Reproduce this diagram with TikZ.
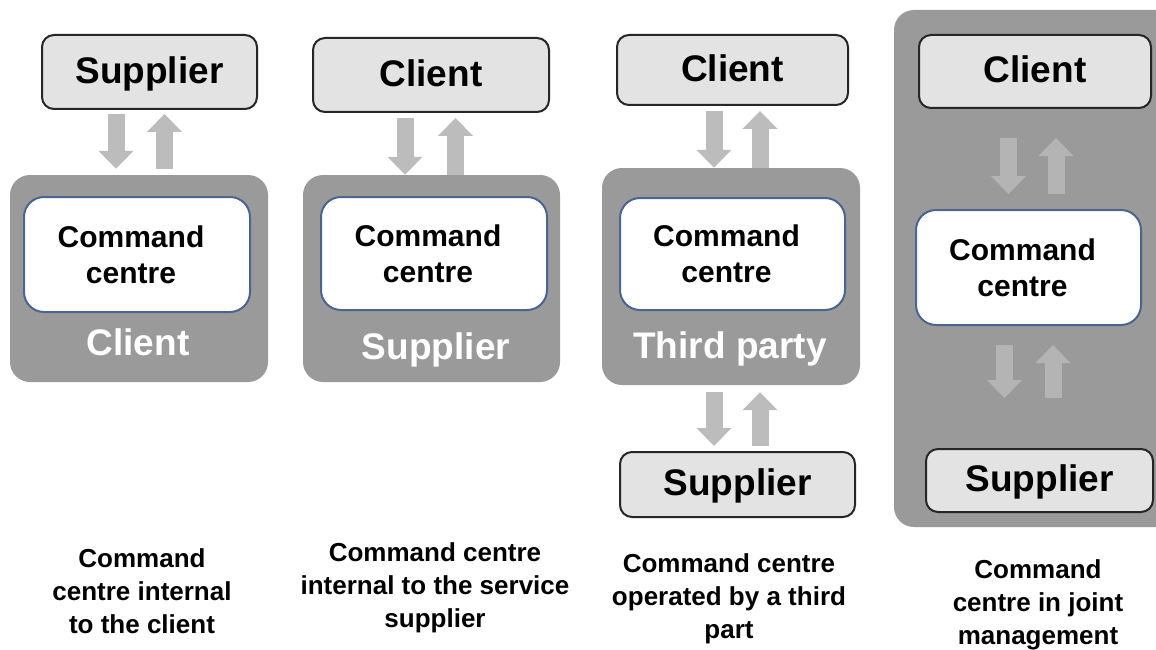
\documentclass[tikz,border=0pt]{standalone}
\usepackage{fontspec}
\setmainfont{Liberation Sans}
\usetikzlibrary{arrows.meta,calc}
\definecolor{boxfill}{HTML}{E3E3E3}
\definecolor{panelgray}{HTML}{9A9A9A}
\definecolor{flowgray}{HTML}{BCBCBC}
\definecolor{flowdim}{HTML}{B4B4B4}
\definecolor{ccborder}{HTML}{4A6592}
% label of a command-centre box, set a little left of the box centre
\newcommand{\cclabel}{Command\hspace*{12pt}\\centre\hspace*{12pt}}
\begin{document}
\begin{tikzpicture}[x=1pt,y=-1pt,
  party/.style={draw=black!85, line width=2pt, fill=boxfill, rounded corners=12pt,
    inner sep=0pt, text height=26.6pt, text depth=4pt,
    font=\fontsize{37}{44}\selectfont\bfseries},
  panel/.style={fill=panelgray, rounded corners=20pt, inner sep=0pt},
  centre/.style={draw=ccborder, line width=2pt, fill=white, rounded corners=20pt,
    align=center, inner sep=0pt, font=\fontsize{30}{36}\selectfont\bfseries},
  owner/.style={text=white, inner sep=0pt, text height=26.6pt, text depth=4pt,
    font=\fontsize{37}{44}\selectfont\bfseries},
  caption/.style={align=center, inner sep=0pt, font=\fontsize{26}{33}\selectfont\bfseries},
  flow/.style={draw=flowgray, line width=17pt, -{Triangle[length=18pt,width=34pt]}},
  flowin/.style={flow, draw=flowdim},
]
\useasboundingbox (0,0) rectangle (1156,650);
\fill[white] (0,0) rectangle (1156,650);
\clip (0,0) rectangle (1156,650);

% ---- Model 1: command centre inside the client
\node[party, minimum width=215pt, minimum height=74pt] (sup1) at (149.5,72) {Supplier};
\node[panel, minimum width=258pt, minimum height=207pt] (own1) at (139,278.5) {};
\node[centre, minimum width=226pt, minimum height=115pt] (cc1) at (137,254.5) {\cclabel};
\node[owner] (lab1) at (138,344.5) {Client};
\draw[flow] ($(116,0 |- sup1.south)+(0,4)$) -- ($(116,0 |- own1.north)+(0,-6)$);
\draw[flow] ($(164.5,0 |- own1.north)+(0,-6)$) -- ($(164.5,0 |- sup1.south)+(0,4)$);
\node[caption] (cap1) at (142,591) {Command\\centre internal\\to the client};

% ---- Model 2: command centre inside the supplier
\node[party, minimum width=236pt, minimum height=74pt] (cli2) at (431,75) {Client};
\node[panel, minimum width=257pt, minimum height=207pt] (own2) at (431.5,278.5) {};
\node[centre, minimum width=226pt, minimum height=113pt] (cc2) at (434,253.5) {\cclabel};
\node[owner] (lab2) at (436,348.5) {Supplier};
\draw[flow] ($(405,0 |- cli2.south)+(0,5)$) -- ($(405,0 |- own2.north)+(0,0)$);
\draw[flow] ($(455.5,0 |- own2.north)+(0,0)$) -- ($(455.5,0 |- cli2.south)+(0,5)$);
\node[caption] (cap2) at (435,588) {Command centre\\internal to the service\\supplier};

% ---- Model 3: command centre run by a third party
\node[party, minimum width=231pt, minimum height=70pt] (cli3) at (732.5,70) {Client};
\node[panel, minimum width=258pt, minimum height=217pt] (own3) at (731,276.5) {};
\node[centre, minimum width=225pt, minimum height=112pt] (cc3) at (732.5,254) {\cclabel};
\node[owner] (lab3) at (730,347) {Third party};
\node[party, minimum width=235pt, minimum height=65pt] (sup3) at (737.5,484.5) {Supplier};
\draw[flow] ($(714,0 |- cli3.south)+(0,5)$) -- ($(714,0 |- own3.north)+(0,0)$);
\draw[flow] ($(760,0 |- own3.north)+(0,0)$) -- ($(760,0 |- cli3.south)+(0,5)$);
\draw[flow] ($(714,0 |- own3.south)+(0,7)$) -- ($(714,0 |- sup3.north)+(0,-5)$);
\draw[flow] ($(760,0 |- sup3.north)+(0,-5)$) -- ($(760,0 |- own3.south)+(0,7)$);
\node[caption] (cap3) at (729,599) {Command centre\\operated by a third\\part};

% ---- Model 4: command centre in joint management
\node[panel, minimum width=286pt, minimum height=517pt] (own4) at (1037,268.5) {};
\node[party, minimum width=232pt, minimum height=73pt] (cli4) at (1035,71.5) {Client};
\node[centre, minimum width=225pt, minimum height=115pt] (cc4) at (1028.5,267.5) {\cclabel};
\node[party, minimum width=227pt, minimum height=63pt] (sup4) at (1039.5,480.5) {Supplier};
\draw[flowin] ($(1008.5,0 |- cli4.south)+(0,29)$) -- ($(1008.5,0 |- cc4.north)+(0,-15)$);
\draw[flowin] ($(1056,0 |- cc4.north)+(0,-15)$) -- ($(1056,0 |- cli4.south)+(0,29)$);
\draw[flowin] ($(1004.5,0 |- cc4.south)+(0,19)$) -- ($(1004.5,0 |- sup4.north)+(0,-50)$);
\draw[flowin] ($(1053,0 |- sup4.north)+(0,-50)$) -- ($(1053,0 |- cc4.south)+(0,19)$);
\node[caption] (cap4) at (1038,605) {Command\\centre in joint\\management};
\end{tikzpicture}
\end{document}
